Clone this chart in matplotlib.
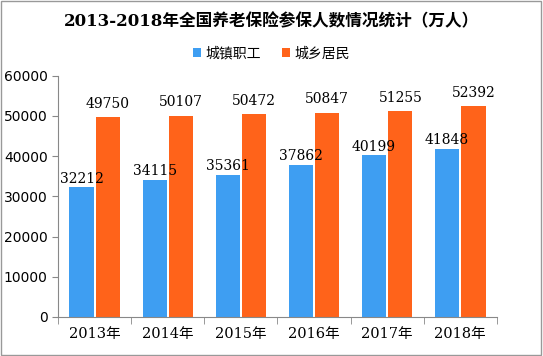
import matplotlib
matplotlib.use("Agg")
import matplotlib.pyplot as plt
import numpy as np

plt.rcParams["font.family"] = ["DejaVu Serif", "Noto Sans CJK SC"]

years = ["2013年", "2014年", "2015年", "2016年", "2017年", "2018年"]
urban_workers = [32212, 34115, 35361, 37862, 40199, 41848]
rural_residents = [49750, 50107, 50472, 50847, 51255, 52392]
series_names = ["城镇职工", "城乡居民"]
title = "2013-2018年全国养老保险参保人数情况统计（万人）"

blue = "#3E9EF2"
orange = "#FF631A"

fig = plt.figure(figsize=(5.43, 3.56), dpi=100)
ax = fig.add_axes([0.107, 0.110, 0.808, 0.677])

x = np.arange(len(years))
w = 0.33
b1 = ax.bar(x - w / 2 - 0.015, urban_workers, w, color=blue, label=series_names[0])
b2 = ax.bar(x + w / 2 + 0.015, rural_residents, w, color=orange, label=series_names[1])

for rect, v in zip(b1, urban_workers):
    ax.text(rect.get_x() + rect.get_width() / 2, v + 400, str(v),
            ha="center", va="bottom", fontsize=10)
for rect, v in zip(b2, rural_residents):
    ax.text(rect.get_x() + rect.get_width() / 2, v + 1600, str(v),
            ha="center", va="bottom", fontsize=10)

ax.set_xlim(-0.5, len(years) - 0.5)
ax.set_ylim(0, 60000)
ax.set_yticks(np.arange(0, 60001, 10000))
ax.tick_params(axis="y", labelsize=10, length=4, color="#888888", direction="out")
for lbl in ax.get_yticklabels():
    lbl.set_family(["DejaVu Sans"])
ax.set_xticks(x)
ax.set_xticklabels(years, fontsize=10.5)
ax.tick_params(axis="x", length=0, pad=7)
ax.set_xticks(np.arange(-0.5, len(years)), minor=True)
ax.tick_params(axis="x", which="minor", length=5, color="#888888")

for s in ["top", "right"]:
    ax.spines[s].set_visible(False)
ax.spines["left"].set_color("#888888")
ax.spines["bottom"].set_color("#888888")

fig.text(0.5, 0.938, title, ha="center", va="center", fontsize=12, fontweight="bold")
fig.legend(handles=[b1, b2], loc="center", bbox_to_anchor=(0.5, 0.85), ncol=2,
           frameon=False, fontsize=10, handlelength=0.6, handleheight=0.6,
           handletextpad=0.3, columnspacing=1.5)

fig.patches.append(plt.Rectangle((0.002, 0.003), 0.995, 0.994, transform=fig.transFigure,
                                 fill=False, edgecolor="#999999", linewidth=1))

fig.savefig("out.png", dpi=100)
